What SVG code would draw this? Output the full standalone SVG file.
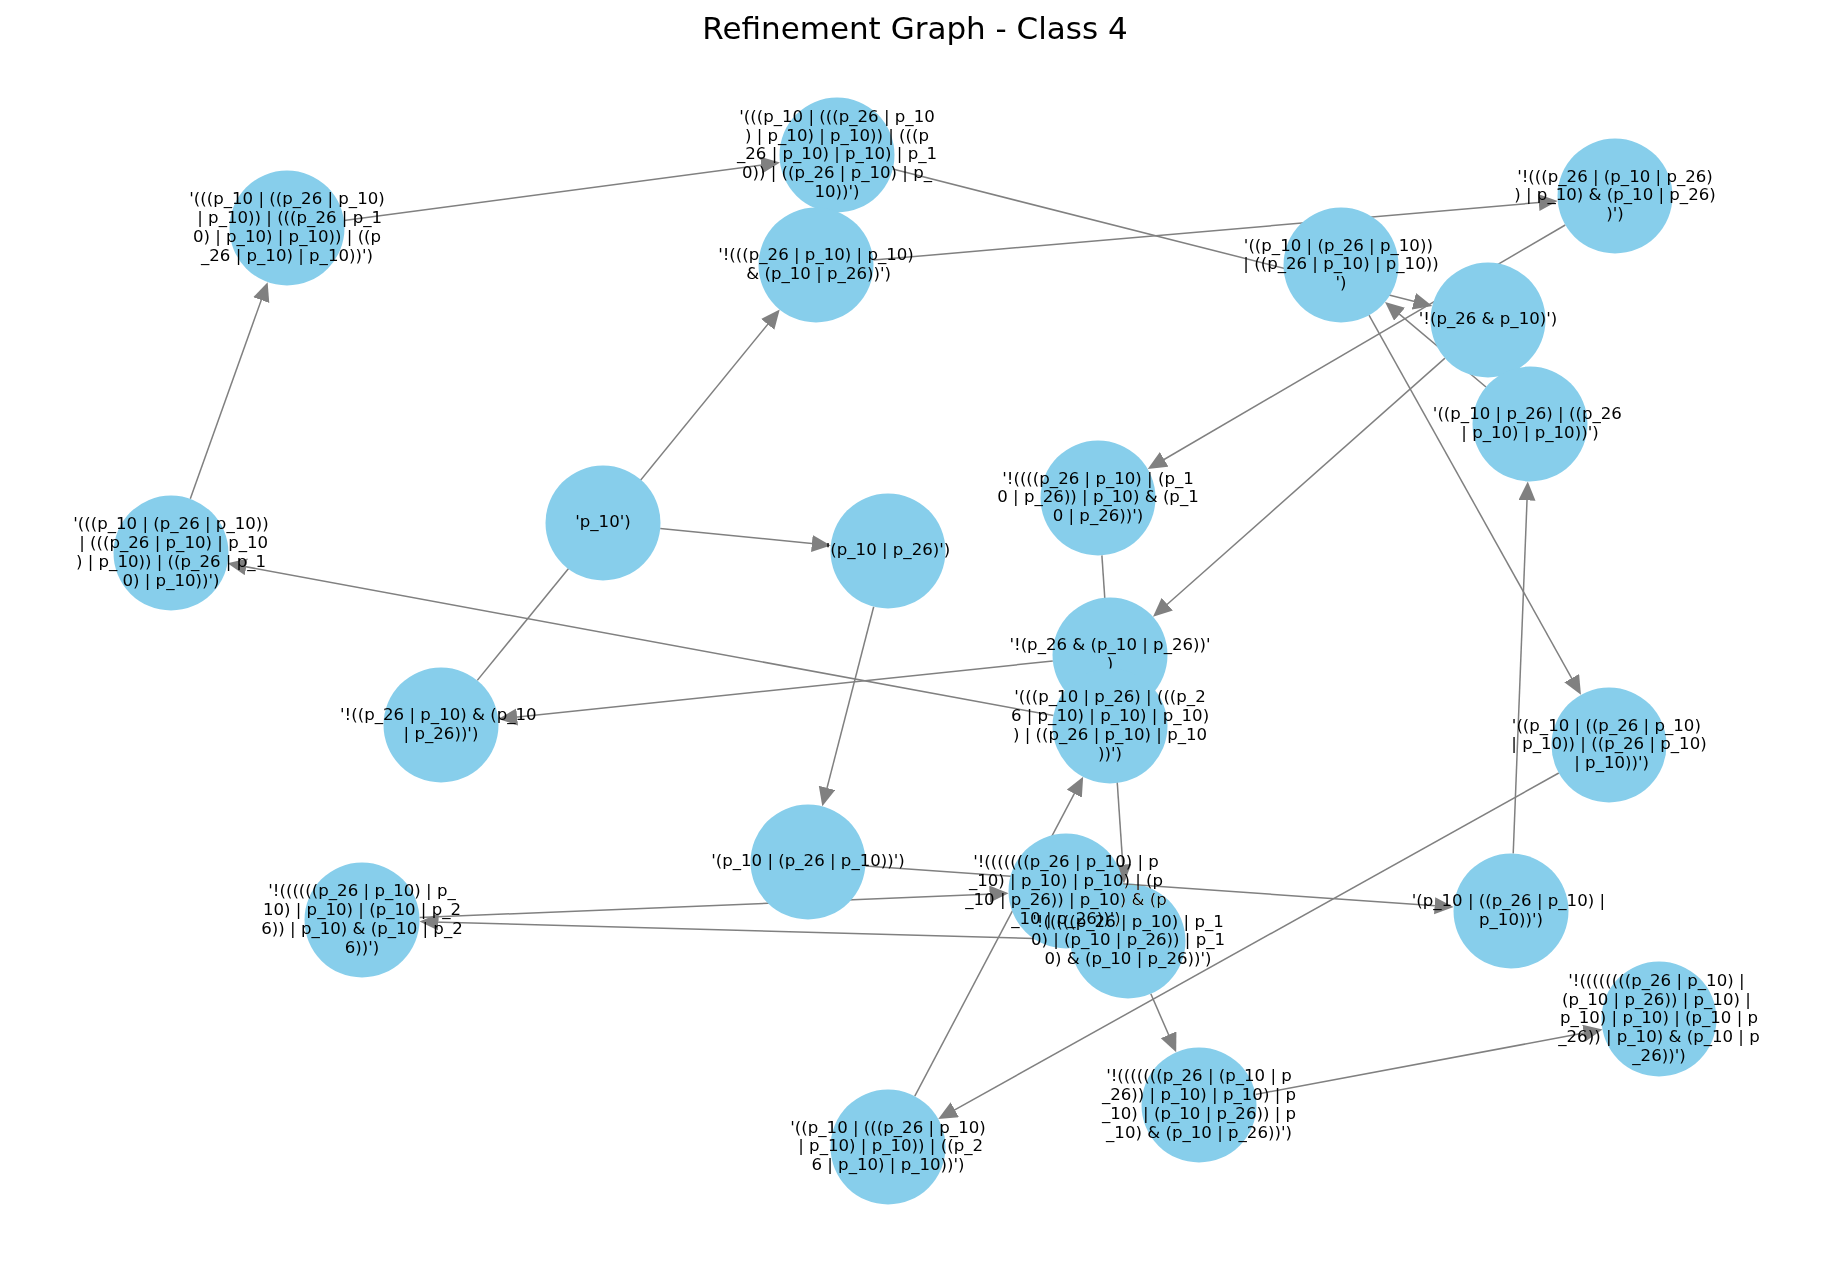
<svg xmlns="http://www.w3.org/2000/svg" width="1830" height="1266" viewBox="0 0 1830 1266">
<style>
.edge{stroke:#808080;stroke-width:1.5;fill:none;marker-end:url(#arrow)}
.node circle{fill:#87CEEB}
.label{font-family:"DejaVu Sans","Liberation Sans",sans-serif;font-size:16.6px;fill:#000;text-anchor:middle}
.title{font-family:"DejaVu Sans","Liberation Sans",sans-serif;font-size:31px;fill:#000;text-anchor:middle}
.blend{mix-blend-mode:darken}
</style>
<defs>
<marker id="arrow" markerUnits="userSpaceOnUse" markerWidth="20" markerHeight="18" refX="15" refY="8.5" orient="auto"><path d="M0,0 L19,8.5 L0,17 Z" fill="#808080"/></marker>
</defs>
<rect x="0" y="0" width="1830" height="1266" fill="#ffffff"/>
<text class="title" x="915" y="39">Refinement Graph - Class 4</text>
<g id="connectors">
<line class="edge" x1="190.3" y1="498.8" x2="266.3" y2="285.9"/>
<line class="edge" x1="344.0" y1="220.4" x2="776.0" y2="163.1"/>
<line class="edge" x1="892.7" y1="169.1" x2="1428.4" y2="304.9"/>
<line class="edge" x1="873.3" y1="260.1" x2="1553.7" y2="201.3"/>
<line class="edge" x1="477.3" y1="680.4" x2="777.2" y2="312.7"/>
<line class="edge" x1="660.2" y1="528.6" x2="826.8" y2="545.0"/>
<line class="edge" x1="1053.5" y1="715.6" x2="231.5" y2="564.1"/>
<line class="edge" x1="1052.8" y1="661.0" x2="502.2" y2="718.6"/>
<line class="edge" x1="1565.3" y1="225.0" x2="1151.2" y2="467.0"/>
<line class="edge" x1="1445.0" y1="358.1" x2="1156.0" y2="614.2"/>
<line class="edge" x1="1486.0" y1="387.0" x2="1388.1" y2="304.6"/>
<line class="edge" x1="1369.0" y1="315.2" x2="1579.0" y2="691.3"/>
<line class="edge" x1="1513.2" y1="853.5" x2="1527.6" y2="485.4"/>
<line class="edge" x1="1558.8" y1="773.0" x2="941.7" y2="1117.1"/>
<line class="edge" x1="873.7" y1="606.7" x2="823.3" y2="802.4"/>
<line class="edge" x1="865.4" y1="866.0" x2="1449.6" y2="906.7"/>
<line class="edge" x1="419.5" y1="917.6" x2="1004.6" y2="893.5"/>
<line class="edge" x1="1070.5" y1="939.4" x2="423.5" y2="921.7"/>
<line class="edge" x1="914.8" y1="1096.1" x2="1081.3" y2="780.4"/>
<line class="edge" x1="1101.9" y1="555.4" x2="1123.8" y2="879.6"/>
<line class="edge" x1="1150.8" y1="993.8" x2="1174.6" y2="1048.5"/>
<line class="edge" x1="1255.5" y1="1094.4" x2="1598.6" y2="1030.3"/>
</g>
<g id="nodes">
<g id="node-A" class="node"><circle cx="287" cy="228" r="57.5"/><text class="label" xml:space="preserve"><tspan x="287" y="204.3">'(((p_10 | ((p_26 | p_10)</tspan><tspan x="287" y="223.0"> | p_10)) | (((p_26 | p_1</tspan><tspan x="287" y="241.8">0) | p_10) | p_10)) | ((p</tspan><tspan x="287" y="260.5">_26 | p_10) | p_10))')</tspan></text></g>
<g id="node-B" class="node"><circle cx="837" cy="155" r="57.5"/><text class="label" xml:space="preserve"><tspan x="837" y="121.9">'(((p_10 | (((p_26 | p_10</tspan><tspan x="837" y="140.7">) | p_10) | p_10)) | (((p</tspan><tspan x="837" y="159.4">_26 | p_10) | p_10) | p_1</tspan><tspan x="837" y="178.2">0)) | ((p_26 | p_10) | p_</tspan><tspan x="837" y="196.9">10))')</tspan></text></g>
<g id="node-C" class="node"><circle cx="816" cy="265" r="57.5"/><text class="label" xml:space="preserve"><tspan x="816" y="260.0">'!(((p_26 | p_10) | p_10)</tspan><tspan x="816" y="278.8"> &amp; (p_10 | p_26))')</tspan></text></g>
<g id="node-D" class="node"><circle cx="1341" cy="265" r="57.5"/><text class="label" xml:space="preserve"><tspan x="1341" y="250.7">'((p_10 | (p_26 | p_10)) </tspan><tspan x="1341" y="269.4">| ((p_26 | p_10) | p_10))</tspan><tspan x="1341" y="288.2">')</tspan></text></g>
<g id="node-E" class="node"><circle cx="1615" cy="196" r="57.5"/><text class="label" xml:space="preserve"><tspan x="1615" y="181.7">'!(((p_26 | (p_10 | p_26)</tspan><tspan x="1615" y="200.4">) | p_10) &amp; (p_10 | p_26)</tspan><tspan x="1615" y="219.2">)')</tspan></text></g>
<g id="node-F" class="node"><circle cx="1488" cy="320" r="57.5"/><text class="label" xml:space="preserve"><tspan x="1488" y="324.4">'!(p_26 &amp; p_10)')</tspan></text></g>
<g id="node-G" class="node"><circle cx="1530" cy="424" r="57.5"/><text class="label" xml:space="preserve"><tspan x="1530" y="419.0">'((p_10 | p_26) | ((p_26 </tspan><tspan x="1530" y="437.8">| p_10) | p_10))')</tspan></text></g>
<g id="node-H" class="node"><circle cx="603" cy="523" r="57.5"/><text class="label" xml:space="preserve"><tspan x="603" y="527.4">'p_10')</tspan></text></g>
<g id="node-I" class="node"><circle cx="888" cy="551" r="57.5"/><text class="label" xml:space="preserve"><tspan x="888" y="555.4">'(p_10 | p_26)')</tspan></text></g>
<g id="node-J" class="node"><circle cx="1098" cy="498" r="57.5"/><text class="label" xml:space="preserve"><tspan x="1098" y="483.7">'!((((p_26 | p_10) | (p_1</tspan><tspan x="1098" y="502.4">0 | p_26)) | p_10) &amp; (p_1</tspan><tspan x="1098" y="521.2">0 | p_26))')</tspan></text></g>
<g id="node-K" class="node"><circle cx="1110" cy="655" r="57.5"/><text class="label" xml:space="preserve"><tspan x="1110" y="650.0">'!(p_26 &amp; (p_10 | p_26))'</tspan><tspan x="1110" y="668.8">)</tspan></text></g>
<g id="node-L" class="node"><circle cx="1110" cy="726" r="57.5"/><text class="label" xml:space="preserve"><tspan x="1110" y="702.3">'(((p_10 | p_26) | (((p_2</tspan><tspan x="1110" y="721.0">6 | p_10) | p_10) | p_10)</tspan><tspan x="1110" y="739.8">) | ((p_26 | p_10) | p_10</tspan><tspan x="1110" y="758.5">))')</tspan></text></g>
<g id="node-M" class="node"><circle cx="362" cy="920" r="57.5"/><text class="label" xml:space="preserve"><tspan x="362" y="896.3">'!((((((p_26 | p_10) | p_</tspan><tspan x="362" y="915.0">10) | p_10) | (p_10 | p_2</tspan><tspan x="362" y="933.8">6)) | p_10) &amp; (p_10 | p_2</tspan><tspan x="362" y="952.5">6))')</tspan></text></g>
<g id="node-N" class="node"><circle cx="1066" cy="891" r="57.5"/><text class="label" xml:space="preserve"><tspan x="1066" y="867.3">'!(((((((p_26 | p_10) | p</tspan><tspan x="1066" y="886.0">_10) | p_10) | p_10) | (p</tspan><tspan x="1066" y="904.8">_10 | p_26)) | p_10) &amp; (p</tspan><tspan x="1066" y="923.5">_10 | p_26))')</tspan></text></g>
<g id="node-O" class="node"><circle class="blend" cx="1128" cy="941" r="57.5"/><text class="label" xml:space="preserve"><tspan x="1128" y="926.7">'!(((((p_26 | p_10) | p_1</tspan><tspan x="1128" y="945.4">0) | (p_10 | p_26)) | p_1</tspan><tspan x="1128" y="964.2">0) &amp; (p_10 | p_26))')</tspan></text></g>
<g id="node-P" class="node"><circle cx="808" cy="862" r="57.5"/><text class="label" xml:space="preserve"><tspan x="808" y="866.4">'(p_10 | (p_26 | p_10))')</tspan></text></g>
<g id="node-Q" class="node"><circle cx="888" cy="1147" r="57.5"/><text class="label" xml:space="preserve"><tspan x="888" y="1132.7">'((p_10 | (((p_26 | p_10)</tspan><tspan x="888" y="1151.4"> | p_10) | p_10)) | ((p_2</tspan><tspan x="888" y="1170.2">6 | p_10) | p_10))')</tspan></text></g>
<g id="node-R" class="node"><circle cx="1199" cy="1105" r="57.5"/><text class="label" xml:space="preserve"><tspan x="1199" y="1081.3">'!(((((((p_26 | (p_10 | p</tspan><tspan x="1199" y="1100.0">_26)) | p_10) | p_10) | p</tspan><tspan x="1199" y="1118.8">_10) | (p_10 | p_26)) | p</tspan><tspan x="1199" y="1137.5">_10) &amp; (p_10 | p_26))')</tspan></text></g>
<g id="node-S" class="node"><circle cx="1511" cy="911" r="57.5"/><text class="label" xml:space="preserve"><tspan x="1511" y="906.0">'(p_10 | ((p_26 | p_10) | </tspan><tspan x="1511" y="924.8">p_10))')</tspan></text></g>
<g id="node-T" class="node"><circle cx="1659" cy="1019" r="57.5"/><text class="label" xml:space="preserve"><tspan x="1659" y="985.9">'!((((((((p_26 | p_10) | </tspan><tspan x="1659" y="1004.7">(p_10 | p_26)) | p_10) | </tspan><tspan x="1659" y="1023.4">p_10) | p_10) | (p_10 | p</tspan><tspan x="1659" y="1042.2">_26)) | p_10) &amp; (p_10 | p</tspan><tspan x="1659" y="1060.9">_26))')</tspan></text></g>
<g id="node-U" class="node"><circle cx="171" cy="553" r="57.5"/><text class="label" xml:space="preserve"><tspan x="171" y="529.3">'(((p_10 | (p_26 | p_10))</tspan><tspan x="171" y="548.0"> | (((p_26 | p_10) | p_10</tspan><tspan x="171" y="566.8">) | p_10)) | ((p_26 | p_1</tspan><tspan x="171" y="585.5">0) | p_10))')</tspan></text></g>
<g id="node-V" class="node"><circle cx="441" cy="725" r="57.5"/><text class="label" xml:space="preserve"><tspan x="441" y="720.0">'!((p_26 | p_10) &amp; (p_10 </tspan><tspan x="441" y="738.8">| p_26))')</tspan></text></g>
<g id="node-W" class="node"><circle cx="1609" cy="745" r="57.5"/><text class="label" xml:space="preserve"><tspan x="1609" y="730.7">'((p_10 | ((p_26 | p_10) </tspan><tspan x="1609" y="749.4">| p_10)) | ((p_26 | p_10)</tspan><tspan x="1609" y="768.2"> | p_10))')</tspan></text></g>
</g>
</svg>
